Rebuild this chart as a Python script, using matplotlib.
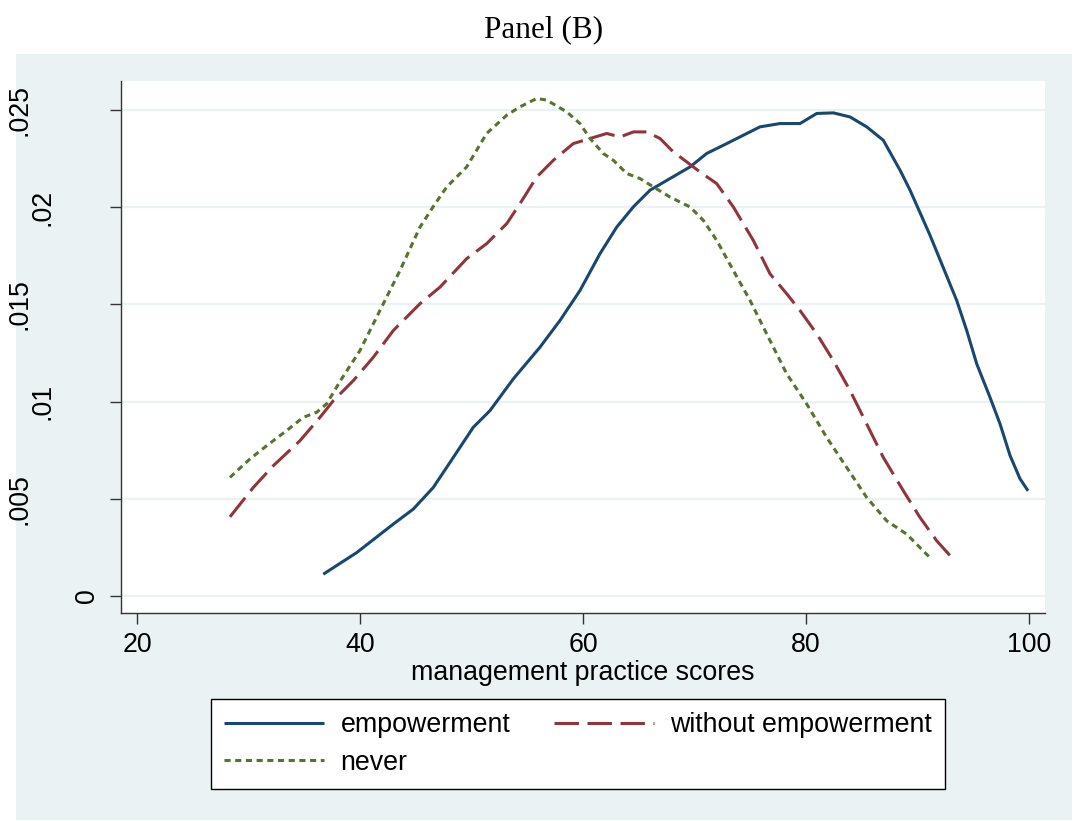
import matplotlib
matplotlib.use("Agg")
import matplotlib.pyplot as plt
from matplotlib.patches import Rectangle
from matplotlib.transforms import blended_transform_factory

# ---------------- data ----------------
emp_x = [36.71, 39.70, 42.99, 44.78, 46.57, 48.37, 50.16, 51.66, 53.75, 56.14,
         57.94, 59.73, 61.52, 63.02, 64.51, 66.01, 67.80, 69.60, 71.09, 72.89,
         74.38, 75.87, 77.67, 79.46, 80.96, 82.45, 83.95, 85.44, 86.93, 88.43,
         89.33, 91.12, 93.51, 94.41, 95.31, 96.50, 97.40, 98.30, 99.19, 99.91]
emp_y = [0.00112, 0.00223, 0.00370, 0.00447, 0.00558, 0.00713, 0.00868, 0.00954,
         0.01117, 0.01280, 0.01418, 0.01572, 0.01761, 0.01898, 0.02002, 0.02088,
         0.02148, 0.02208, 0.02277, 0.02328, 0.02371, 0.02414, 0.02431, 0.02431,
         0.02483, 0.02486, 0.02465, 0.02414, 0.02345, 0.02191, 0.02088, 0.01856,
         0.01521, 0.01366, 0.01194, 0.01022, 0.00885, 0.00722, 0.00603, 0.00541]

wo_x = [28.34, 30.43, 32.22, 34.62, 36.41, 37.61, 39.40, 41.19, 42.99, 45.38,
        47.17, 49.57, 51.36, 53.16, 54.35, 55.85, 57.34, 59.13, 60.63, 62.13,
        63.32, 64.52, 65.72, 66.91, 68.10, 69.30, 70.49, 71.99, 73.48, 75.27,
        76.77, 78.27, 79.46, 80.96, 82.45, 83.95, 85.44, 86.93, 88.73, 90.22,
        91.72, 93.21]
wo_y = [0.00407, 0.00558, 0.00670, 0.00799, 0.00919, 0.01005, 0.01108, 0.01228,
        0.01366, 0.01504, 0.01589, 0.01736, 0.01813, 0.01916, 0.02019, 0.02156,
        0.02242, 0.02328, 0.02354, 0.02380, 0.02362, 0.02388, 0.02388, 0.02354,
        0.02285, 0.02234, 0.02182, 0.02122, 0.02002, 0.01830, 0.01658, 0.01555,
        0.01469, 0.01349, 0.01211, 0.01057, 0.00885, 0.00713, 0.00541, 0.00404,
        0.00284, 0.00189]

nev_x = [28.34, 30.13, 31.63, 33.42, 34.91, 36.11, 37.00, 38.35, 40.00, 41.79,
         43.59, 45.38, 46.55, 47.78, 49.57, 51.36, 53.16, 54.35, 55.85, 56.74,
         58.54, 59.73, 60.63, 61.82, 62.72, 63.92, 65.11, 66.31, 67.80, 69.60,
         70.79, 71.99, 73.48, 74.98, 76.47, 78.27, 80.06, 81.85, 83.65, 85.44,
         87.23, 89.03, 91.12]
nev_y = [0.00610, 0.00705, 0.00773, 0.00851, 0.00919, 0.00945, 0.00988, 0.01117,
         0.01263, 0.01469, 0.01675, 0.01898, 0.02002, 0.02105, 0.02208, 0.02380,
         0.02474, 0.02517, 0.02560, 0.02552, 0.02491, 0.02431, 0.02354, 0.02277,
         0.02242, 0.02174, 0.02148, 0.02105, 0.02053, 0.02002, 0.01933, 0.01830,
         0.01675, 0.01521, 0.01349, 0.01143, 0.00988, 0.00816, 0.00661, 0.00507,
         0.00387, 0.00318, 0.00197]

series_labels = ["empowerment", "without empowerment", "never"]
x_ticks = [20, 40, 60, 80, 100]
y_ticks = [0, 0.005, 0.01, 0.015, 0.02, 0.025]
y_tick_labels = ["0", ".005", ".01", ".015", ".02", ".025"]
x_label = "management practice scores"
title = "Panel (B)"

# ---------------- styling ----------------
W, H = 1076, 821
BG = "#EAF2F3"
NAVY = "#1A476F"
MAROON = "#90353B"
GREEN = "#55752F"
FS = 19.3
SANS = ["Liberation Sans", "DejaVu Sans"]

plt.rcParams["font.family"] = SANS

fig = plt.figure(figsize=(W / 100, H / 100), dpi=100, facecolor="white")
fig.patches.append(Rectangle((16 / W, 1 / H), (1072 - 16) / W, (820 - 54) / H,
                             transform=fig.transFigure, facecolor=BG,
                             edgecolor="none", zorder=0))

ax = fig.add_axes([121 / W, 1 - 613 / H, (1045 - 121) / W, (613 - 81) / H])
ax.set_facecolor("white")
ax.set_zorder(1)

lw = 2.2
l1, = ax.plot(emp_x, emp_y, color=NAVY, lw=lw, solid_capstyle="butt",
              label=series_labels[0])
l2, = ax.plot(wo_x, wo_y, color=MAROON, lw=lw, dashes=(8, 2.8),
              label=series_labels[1])
l3, = ax.plot(nev_x, nev_y, color=GREEN, lw=lw, dashes=(2.0, 1.5),
              label=series_labels[2])

ax.set_xlim(18.57, 101.43)
ax.set_ylim(-0.000876, 0.0265)

for yv in y_ticks:
    ax.axhline(yv, color=BG, lw=1.6, zorder=0.5)

for s in ["top", "right"]:
    ax.spines[s].set_visible(False)
for s in ["left", "bottom"]:
    ax.spines[s].set_color("#333333")
    ax.spines[s].set_linewidth(1.0)

ax.set_xticks(x_ticks)
ax.set_xticklabels([str(v) for v in x_ticks], fontsize=FS)
ax.tick_params(axis="x", direction="out", length=8, width=1.0,
               color="#333333", pad=6)
ax.set_yticks(y_ticks)
ax.set_yticklabels([])
ax.tick_params(axis="y", direction="out", length=8, width=1.0,
               color="#333333")

# rotated y tick labels placed as in the reference
trans = blended_transform_factory(fig.transFigure, ax.transData)
right_edge = {1: 100, 3: 55, 4: 33}
for yv, lab in zip(y_ticks, y_tick_labels):
    ax.text(right_edge[len(lab)] / W, yv, lab, transform=trans, rotation=90,
            ha="right", va="center", fontsize=FS, clip_on=False)

ax.set_xlabel(x_label, fontsize=FS, labelpad=1)

fig.text(544 / W, 1 - 30 / H, title, ha="center", va="center",
         fontsize=22.5, family=["Liberation Serif", "DejaVu Serif"])

# legend filled row by row (emp, without / never)
leg = fig.legend(handles=[l1, l3, l2],
                 labels=[series_labels[0], series_labels[2], series_labels[1]],
                 ncol=2, loc="upper left", bbox_to_anchor=(211 / W, 1 - 699 / H),
                 bbox_transform=fig.transFigure, borderaxespad=0,
                 fontsize=FS, frameon=True, fancybox=False, framealpha=1,
                 handlelength=3.73, handletextpad=0.6, columnspacing=1.64,
                 borderpad=0.5, labelspacing=0.42)
leg.get_frame().set_edgecolor("black")
leg.get_frame().set_linewidth(1.0)
leg.get_frame().set_facecolor("white")

fig.savefig("out.png", dpi=100, facecolor="white")
